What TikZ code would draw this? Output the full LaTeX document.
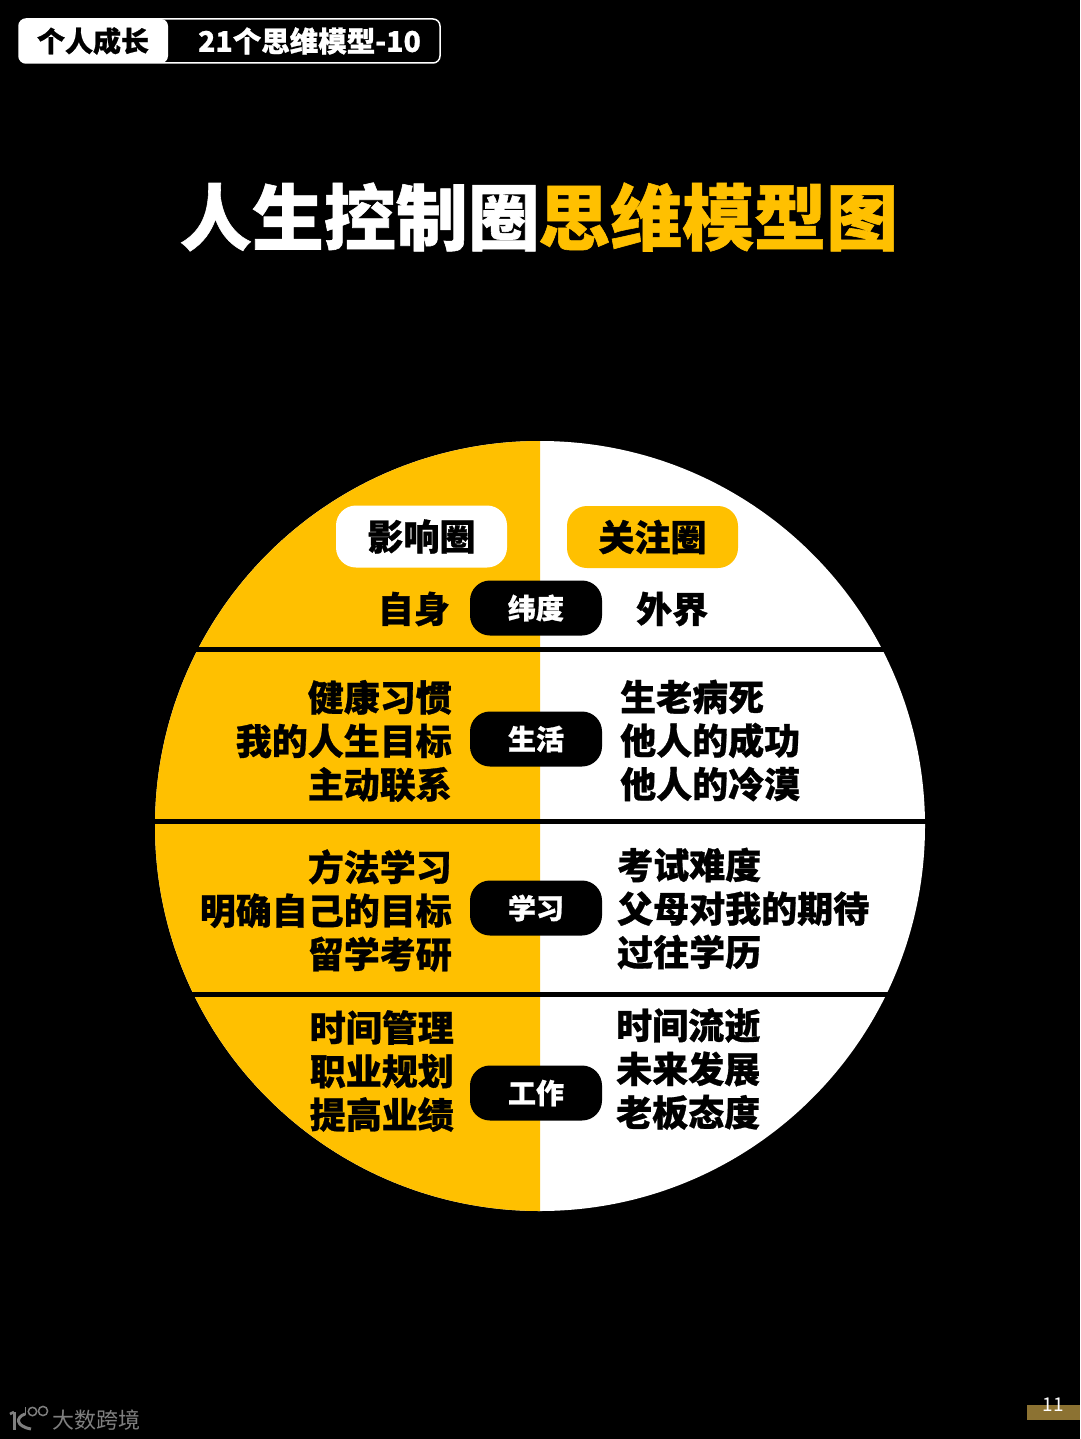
\documentclass[tikz,border=0pt]{standalone}
\usepackage{fontspec}
\newfontfamily\cjk[BoldFeatures={FakeBold=0.8}]{Noto Sans CJK SC}
\definecolor{gold}{HTML}{FFC000}
\definecolor{footgold}{HTML}{8C7232}
\definecolor{markgray}{HTML}{7F7F7F}
\tikzset{
	listtext/.style={inner sep=0pt,font=\cjk\bfseries\fontsize{36}{43.5}\selectfont,text=black},
	leftlist/.style={listtext,anchor=east,align=right},
	rightlist/.style={listtext,anchor=west,align=left},
	headpill/.style={listtext,rounded corners=20pt,minimum width=171pt,minimum height=62pt},
	dimpill/.style={fill=black,text=white,inner sep=0pt,rounded corners=20pt,minimum width=132pt,minimum height=55pt,font=\cjk\bfseries\fontsize{28}{32}\selectfont},
	divider/.style={line width=5pt,black},
}
\begin{document}
\begin{tikzpicture}[x=1pt,y=-1pt]
	\useasboundingbox[fill=black] (0,0) rectangle (1080,1439);
	% header
	\draw[white,line width=1.5pt,rounded corners=7pt] (19,19) rectangle (440,63);
	\fill[white,rounded corners=7pt] (19,19) rectangle (168,63);
	\node[inner sep=0pt,text=black,font=\cjk\bfseries\fontsize{28}{32}\selectfont] (tag) at (93,41) {个人成长};
	\node[inner sep=0pt,text=white,font=\cjk\bfseries\fontsize{28.5}{32}\selectfont] (series) at (309.5,41) {21个思维模型-10};
	% title
	\node[inner sep=0pt,anchor=east,text=white,font=\cjk\bfseries\fontsize{72}{80}\selectfont] (titleleft) at (540,217) {人生控制圈};
	\node[inner sep=0pt,anchor=west,text=gold,font=\cjk\bfseries\fontsize{72}{80}\selectfont] (titleright) at (538,217) {思维模型图};
	% circle
	\coordinate (centre) at (540,826);
	\fill[white] (centre) circle (385);
	\fill[gold] (540,441) arc[start angle=-90,end angle=-270,radius=385] -- cycle;
	\foreach \ypos/\xoff in {649/350,821.5/390,994/350}{
		\draw[divider] (540-\xoff,\ypos) -- (540+\xoff,\ypos);
	}
	% circle names
	\node[headpill,fill=white] (influence) at (421.5,536.5) {影响圈};
	\node[headpill,fill=gold] (concern) at (652.5,537) {关注圈};
	% rows
	\node[dimpill] (dimhead) at (536,608) {纬度};
	\node[leftlist] (selfside) at (450,609) {自身};
	\node[rightlist] (outerside) at (636,609) {外界};
	\node[dimpill] (dimlife) at (536,739) {生活};
	\node[leftlist] (lifeleft) at (452,741) {健康习惯\\我的人生目标\\主动联系};
	\node[rightlist] (liferight) at (620,740.5) {生老病死\\他人的成功\\他人的冷漠};
	\node[dimpill] (dimstudy) at (536,908) {学习};
	\node[leftlist] (studyleft) at (452,910.5) {方法学习\\明确自己的目标\\留学考研};
	\node[rightlist] (studyright) at (617,908.5) {考试难度\\父母对我的期待\\过往学历};
	\node[dimpill] (dimwork) at (536,1093) {工作};
	\node[leftlist] (workleft) at (454,1071) {时间管理\\职业规划\\提高业绩};
	\node[rightlist] (workright) at (616,1069) {时间流逝\\未来发展\\老板态度};
	% footer
	\fill[footgold] (1027,1405) rectangle (1080,1420);
	\node[inner sep=0pt,text=white,font=\cjk\fontsize{19}{20}\selectfont] (pageno) at (1053,1405) {11};
	\node[inner sep=0pt,anchor=west,text=markgray,font=\cjk\fontsize{22}{24}\selectfont] (brand) at (52,1420.5) {大数跨境};
	% logo
	\draw[markgray,line width=3pt] (14,1412) -- (14,1430);
	\draw[markgray,line width=2.5pt] (10,1414) -- (14,1412);
	\draw[markgray,line width=3pt] (25,1414) .. controls (16,1417) and (15,1426) .. (31,1429);
	\draw[markgray,line width=1.5pt] (25.5,1407) -- (25.5,1415);
	\draw[markgray,line width=1.5pt] (32.5,1411.5) circle (4.2);
	\draw[markgray,line width=1.5pt] (43,1411) circle (4.6);
\end{tikzpicture}
\end{document}
